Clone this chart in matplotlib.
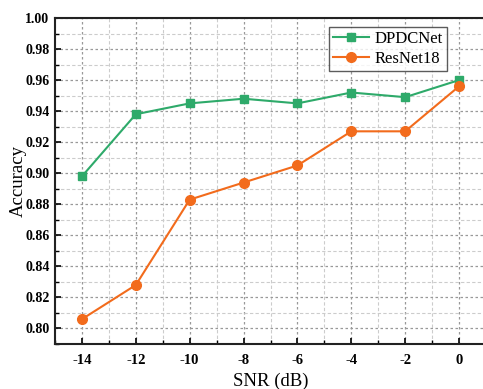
import matplotlib
matplotlib.use("Agg")
import matplotlib.pyplot as plt
from matplotlib.ticker import MultipleLocator

snr = [-14, -12, -10, -8, -6, -4, -2, 0]
dpdcnet = [0.898, 0.938, 0.945, 0.948, 0.945, 0.952, 0.949, 0.960]
resnet18 = [0.806, 0.828, 0.883, 0.894, 0.905, 0.927, 0.927, 0.956]
xticks = [-14, -12, -10, -8, -6, -4, -2, 0]
yticks = [0.80, 0.82, 0.84, 0.86, 0.88, 0.90, 0.92, 0.94, 0.96, 0.98, 1.00]

plt.rcParams['font.family'] = ['Liberation Serif', 'DejaVu Serif']

W, H = 483, 389
fig = plt.figure(figsize=(W / 100, H / 100), dpi=100)
ax = fig.add_axes([55 / W, (H - 344) / H, (486 - 55) / W, (344 - 18) / H])

green = '#2eaa6a'
orange = '#f26b1c'
ax.plot(snr, dpdcnet, color=green, marker='s', markersize=6, lw=1.5, label='DPDCNet', zorder=3)
ax.plot(snr, resnet18, color=orange, marker='o', markersize=7, lw=1.5, label='ResNet18', zorder=3)

ax.set_xlim(-15, 1)
ax.set_ylim(0.79, 1.00)
ax.set_xticks(xticks)
ax.set_xticklabels([str(v) for v in xticks], fontweight='bold', fontsize=10.5)
ax.set_yticks(yticks)
ax.set_yticklabels([f"{v:.2f}" for v in yticks], fontweight='bold', fontsize=10)
ax.xaxis.set_minor_locator(MultipleLocator(1))
ax.yaxis.set_minor_locator(MultipleLocator(0.01))

ax.grid(which='major', color='#999999', linestyle=(0, (2, 2)), lw=0.9)
ax.grid(which='minor', color='#cccccc', linestyle=(0, (3, 2)), lw=0.8)
ax.set_axisbelow(True)

for s in ax.spines.values():
    s.set_linewidth(1.5)
    s.set_color('#222222')
ax.tick_params(which='major', length=4.5, width=1.2, direction='in')
ax.tick_params(axis='x', which='major', pad=7)
ax.tick_params(axis='y', which='major', pad=4)
ax.tick_params(which='minor', length=3, width=1.0, direction='in')

ax.set_xlabel('SNR (dB)', fontsize=13.5, labelpad=4)
ax.set_ylabel('Accuracy', fontsize=13.5, labelpad=-1)

leg = ax.legend(loc='upper right', bbox_to_anchor=(0.909, 0.972), fontsize=12, frameon=True,
                fancybox=False, edgecolor='#333333', handlelength=2.2, borderpad=0.25,
                labelspacing=0.2, handletextpad=0.3, borderaxespad=0)
leg.get_frame().set_linewidth(1.0)

fig.savefig('out.png', dpi=100)
